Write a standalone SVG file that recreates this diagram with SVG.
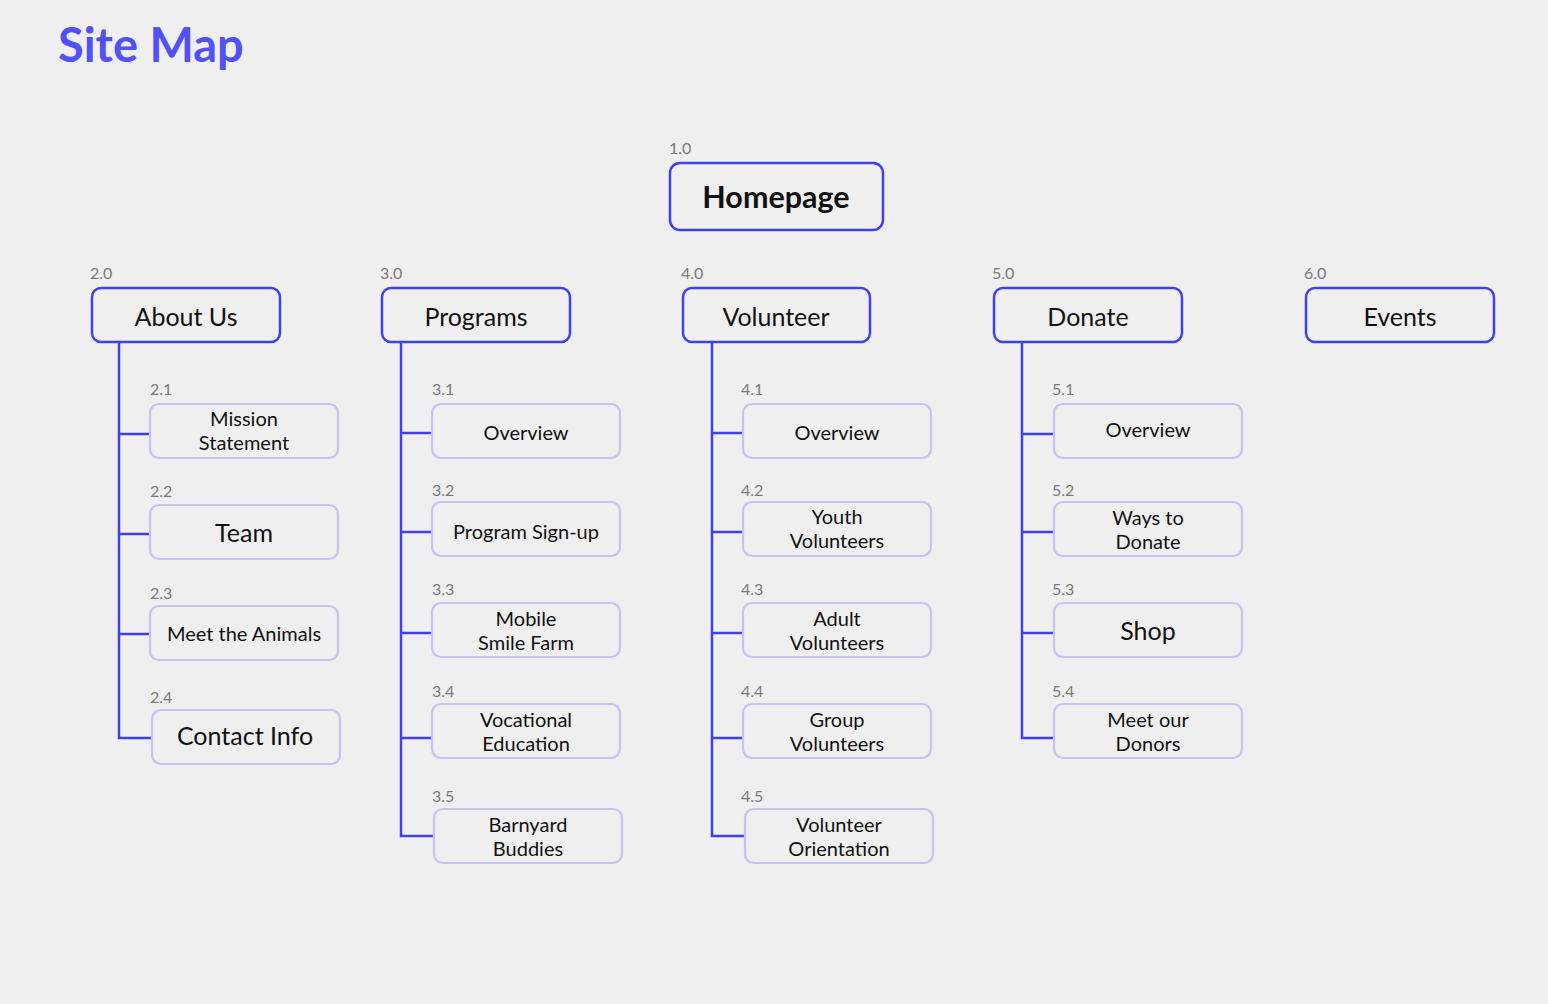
<svg xmlns="http://www.w3.org/2000/svg" width="1548" height="1004" viewBox="0 0 1548 1004">
<style>
.bg{fill:#efefef}
.title{font-family:Lato,"Noto Sans",sans-serif;font-weight:700;font-size:47px;fill:#5151f5}
.p{fill:#efefef;stroke:#4040f0;stroke-width:2.5}
.c{fill:#efefef;stroke:#c6c2f4;stroke-width:2.2}
.num{font-family:Lato,"Noto Sans",sans-serif;font-size:16px;fill:#7a7a7a}
.pt{font-family:Lato,"Noto Sans",sans-serif;font-size:25px;fill:#111;text-anchor:middle}
.ct{font-family:Lato,"Noto Sans",sans-serif;font-size:20px;fill:#111;text-anchor:middle}
.cb{font-family:Lato,"Noto Sans",sans-serif;font-size:25px;fill:#111;text-anchor:middle}
.home{font-family:Lato,"Noto Sans",sans-serif;font-weight:700;font-size:30.5px;fill:#111;text-anchor:middle}
.ln{fill:none;stroke:#4040f0;stroke-width:2.5}
</style>
<rect class="bg" x="0" y="0" width="1548" height="1004"/>
<text class="title" x="58" y="62">Site Map</text>

<g id="connectors">
<path class="ln" d="M119 342V738H152M119 434H150M119 534H150M119 634H150"/>
<path class="ln" d="M401 342V836H434M401 433H432M401 532H432M401 633H432M401 738H432"/>
<path class="ln" d="M712 342V836H745M712 433H743M712 532H743M712 633H743M712 738H743"/>
<path class="ln" d="M1022 342V738H1054M1022 434H1054M1022 532H1054M1022 633H1054"/>
</g>

<g id="n1-0"><text class="num" x="669" y="154">1.0</text><rect class="p" x="670" y="163" width="213" height="67" rx="10"/><text class="home" x="776" y="208">Homepage</text></g>

<g id="n2-0"><text class="num" x="90" y="279">2.0</text><rect class="p" x="92" y="288" width="188" height="54" rx="9"/><text class="pt" x="186" y="326">About Us</text></g>
<g id="n3-0"><text class="num" x="380" y="279">3.0</text><rect class="p" x="382" y="288" width="188" height="54" rx="9"/><text class="pt" x="476" y="326">Programs</text></g>
<g id="n4-0"><text class="num" x="681" y="279">4.0</text><rect class="p" x="683" y="288" width="187" height="54" rx="9"/><text class="pt" x="776" y="326">Volunteer</text></g>
<g id="n5-0"><text class="num" x="992" y="279">5.0</text><rect class="p" x="994" y="288" width="188" height="54" rx="9"/><text class="pt" x="1088" y="326">Donate</text></g>
<g id="n6-0"><text class="num" x="1304" y="279">6.0</text><rect class="p" x="1306" y="288" width="188" height="54" rx="9"/><text class="pt" x="1400" y="326">Events</text></g>

<g id="n2-1"><text class="num" x="150" y="395">2.1</text><rect class="c" x="150" y="404" width="188" height="54" rx="9"/><text class="ct" x="244" y="426">Mission</text><text class="ct" x="244" y="450">Statement</text></g>
<g id="n2-2"><text class="num" x="150" y="497">2.2</text><rect class="c" x="150" y="505" width="188" height="54" rx="9"/><text class="cb" x="244" y="542">Team</text></g>
<g id="n2-3"><text class="num" x="150" y="599">2.3</text><rect class="c" x="150" y="606" width="188" height="54" rx="9"/><text class="ct" x="244" y="641">Meet the Animals</text></g>
<g id="n2-4"><text class="num" x="150" y="703">2.4</text><rect class="c" x="152" y="710" width="188" height="54" rx="9"/><text class="cb" x="245" y="745">Contact Info</text></g>

<g id="n3-1"><text class="num" x="432" y="395">3.1</text><rect class="c" x="432" y="404" width="188" height="54" rx="9"/><text class="ct" x="526" y="440">Overview</text></g>
<g id="n3-2"><text class="num" x="432" y="496">3.2</text><rect class="c" x="432" y="502" width="188" height="54" rx="9"/><text class="ct" x="526" y="539">Program Sign-up</text></g>
<g id="n3-3"><text class="num" x="432" y="595">3.3</text><rect class="c" x="432" y="603" width="188" height="54" rx="9"/><text class="ct" x="526" y="626">Mobile</text><text class="ct" x="526" y="650">Smile Farm</text></g>
<g id="n3-4"><text class="num" x="432" y="697">3.4</text><rect class="c" x="432" y="704" width="188" height="54" rx="9"/><text class="ct" x="526" y="727">Vocational</text><text class="ct" x="526" y="751">Education</text></g>
<g id="n3-5"><text class="num" x="432" y="802">3.5</text><rect class="c" x="434" y="809" width="188" height="54" rx="9"/><text class="ct" x="528" y="832">Barnyard</text><text class="ct" x="528" y="856">Buddies</text></g>

<g id="n4-1"><text class="num" x="741" y="395">4.1</text><rect class="c" x="743" y="404" width="188" height="54" rx="9"/><text class="ct" x="837" y="440">Overview</text></g>
<g id="n4-2"><text class="num" x="741" y="496">4.2</text><rect class="c" x="743" y="502" width="188" height="54" rx="9"/><text class="ct" x="837" y="524">Youth</text><text class="ct" x="837" y="548">Volunteers</text></g>
<g id="n4-3"><text class="num" x="741" y="595">4.3</text><rect class="c" x="743" y="603" width="188" height="54" rx="9"/><text class="ct" x="837" y="626">Adult</text><text class="ct" x="837" y="650">Volunteers</text></g>
<g id="n4-4"><text class="num" x="741" y="697">4.4</text><rect class="c" x="743" y="704" width="188" height="54" rx="9"/><text class="ct" x="837" y="727">Group</text><text class="ct" x="837" y="751">Volunteers</text></g>
<g id="n4-5"><text class="num" x="741" y="802">4.5</text><rect class="c" x="745" y="809" width="188" height="54" rx="9"/><text class="ct" x="839" y="832">Volunteer</text><text class="ct" x="839" y="856">Orientation</text></g>

<g id="n5-1"><text class="num" x="1052" y="395">5.1</text><rect class="c" x="1054" y="404" width="188" height="54" rx="9"/><text class="ct" x="1148" y="437">Overview</text></g>
<g id="n5-2"><text class="num" x="1052" y="496">5.2</text><rect class="c" x="1054" y="502" width="188" height="54" rx="9"/><text class="ct" x="1148" y="525">Ways to</text><text class="ct" x="1148" y="549">Donate</text></g>
<g id="n5-3"><text class="num" x="1052" y="595">5.3</text><rect class="c" x="1054" y="603" width="188" height="54" rx="9"/><text class="cb" x="1148" y="640">Shop</text></g>
<g id="n5-4"><text class="num" x="1052" y="697">5.4</text><rect class="c" x="1054" y="704" width="188" height="54" rx="9"/><text class="ct" x="1148" y="727">Meet our</text><text class="ct" x="1148" y="751">Donors</text></g>
</svg>
